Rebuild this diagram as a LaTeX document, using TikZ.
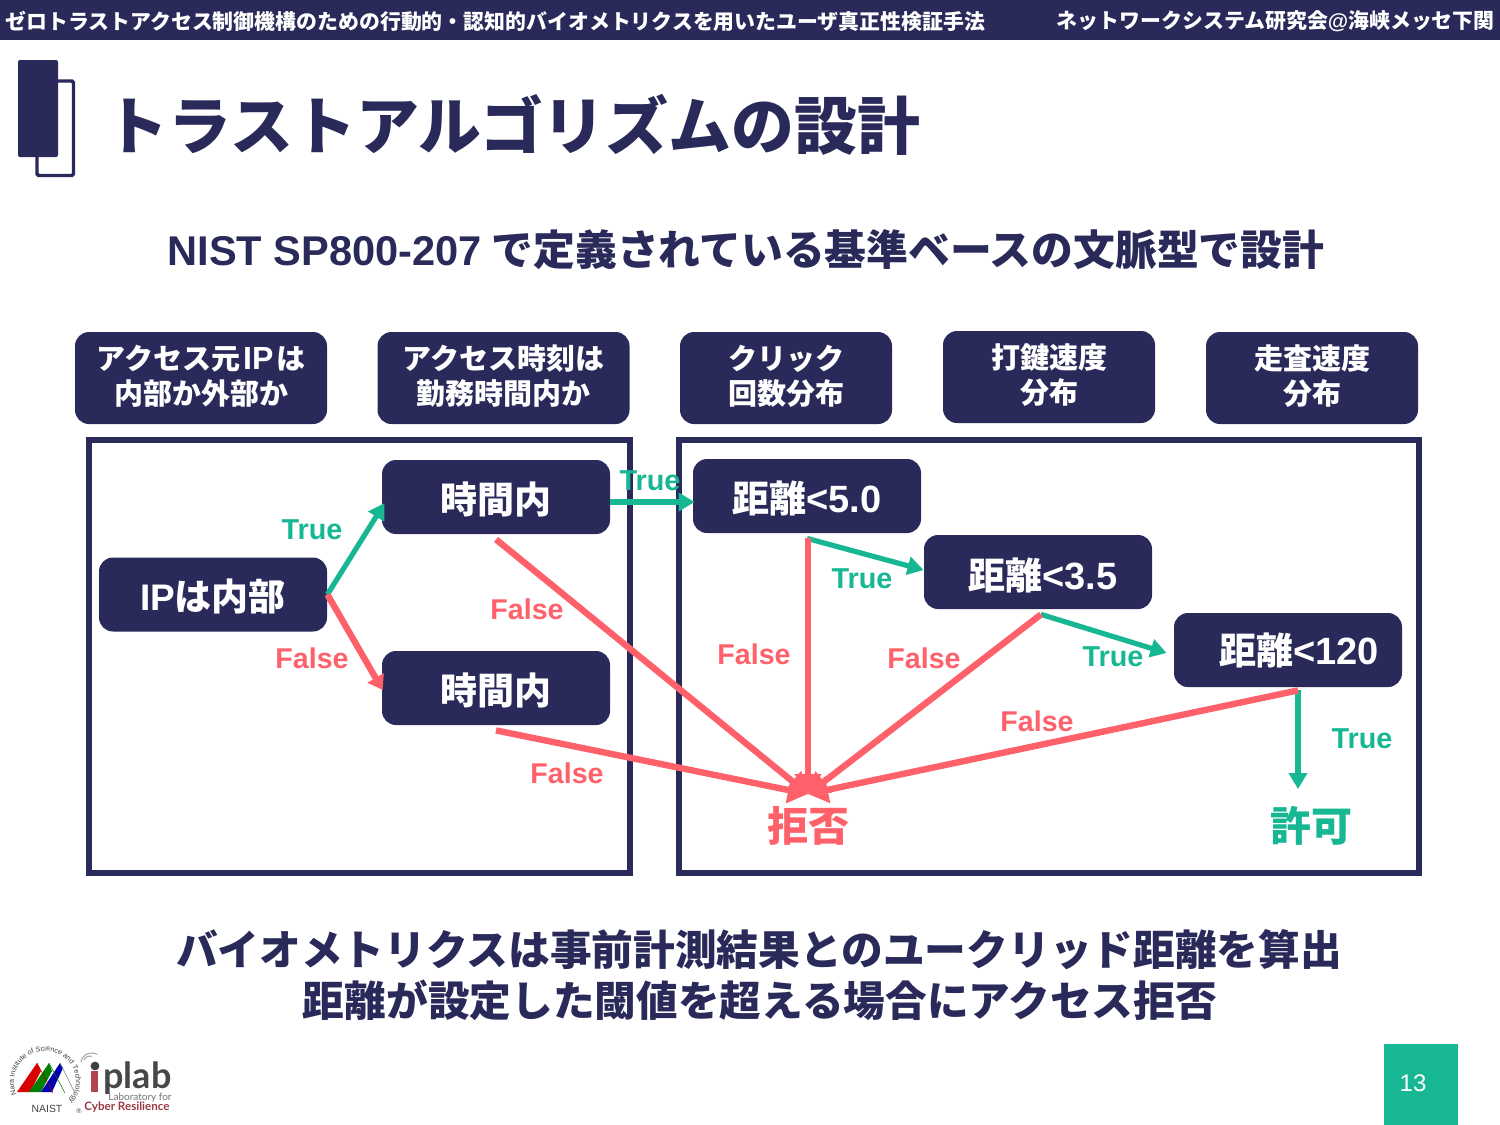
\documentclass[tikz,border=0pt]{standalone}
\usepackage{fontspec}
\setmainfont{Noto Sans CJK JP}
\newfontfamily\lat{Liberation Sans}
\newfontfamily\logofont{Lato}
\usetikzlibrary{arrows.meta,decorations.text}
\definecolor{navy}{HTML}{2A2A5A}
\definecolor{grn}{HTML}{17B794}
\definecolor{rd}{HTML}{FF616B}
\newcommand{\fs}[1]{\fontsize{#1}{#1}\selectfont}
\newcommand{\critup}{\rule[-3pt]{0pt}{3pt}}
\tikzset{
 txt/.style={inner sep=0pt,font=\bfseries},
 hd/.style={txt,text=white,font=\bfseries\fs{10.45}},
 crit/.style={draw=none,fill=navy,rounded corners=7pt,text=white,inner sep=0pt,align=center,
   font=\bfseries\fontsize{14.5}{17.5}\selectfont},
 dec/.style={fill=navy,rounded corners=7pt,text=white,inner sep=0pt,minimum width=114pt,minimum height=37pt,
   text height=18.5pt,text depth=2.2pt,font=\bfseries\fs{18.5}},
 frame/.style={draw=navy,line width=2.7pt,inner sep=0pt},
 gl/.style={txt,text=grn,font=\bfseries\lat\fs{14.4}},
 rl/.style={txt,text=rd,font=\bfseries\lat\fs{14.3}},
 garr/.style={draw=grn,line width=2.6pt,-{Triangle[length=8pt,width=9pt]}},
 rarr/.style={draw=rd,line width=3.2pt,-{Triangle[length=10pt,width=13pt]}},
 rsmall/.style={draw=rd,line width=3.2pt,-{Triangle[length=7pt,width=9pt]}},
}
\begin{document}
\begin{tikzpicture}[x=0.5pt,y=-0.5pt]
\useasboundingbox (0,0) rectangle (1500,1125);
\fill[navy] (0,0) rectangle (1500,40);
\node[hd,anchor=west] (hl) at (5,21) {ゼロトラストアクセス制御機構のための行動的・認知的バイオメトリクスを用いたユーザ真正性検証手法};
\node[hd,anchor=east] (hr) at (1495,21) {ネットワークシステム研究会{\lat @}海峡メッセ下関};
% title icon
\draw[navy,line width=1.7pt,rounded corners=0.8pt] (37,81) rectangle (73.5,175.5);
\fill[navy,rounded corners=1pt] (18,60) rectangle (58,157);
\node[txt,text=navy,font=\bfseries\fs{31.45}] (title) at (513,125) {トラストアルゴリズムの設計};
\node[txt,text=navy,font=\bfseries\fs{20.9}] (sub) at (746,250) {{\lat\fs{20.8}NIST SP800-207} で定義されている基準ベースの文脈型で設計};
% criteria
\node[crit,minimum width=126pt,minimum height=46pt] (c1) at (201,378) {アクセス元{\lat\fs{16}\hspace{1.5pt}IP\hspace{1.5pt}}は\\内部か外部か\critup};
\node[crit,minimum width=126pt,minimum height=46pt] (c2) at (503.5,378) {アクセス時刻は\\勤務時間内か\critup};
\node[crit,minimum width=106pt,minimum height=46pt] (c3) at (786,378) {クリック\\回数分布\critup};
\node[crit,minimum width=106pt,minimum height=46pt] (c4) at (1049,377) {打鍵速度\\分布\critup};
\node[crit,minimum width=106pt,minimum height=46pt] (c5) at (1312,378) {走査速度\\分布\critup};
% frames
\draw[frame] (89,440) rectangle (630,873);
\draw[frame] (679,440) rectangle (1419,873);
% decisions
\node[dec] (ip) at (213,594.5) {{\lat IP}は内部};
\node[dec] (t1) at (496,497) {時間内};
\node[dec] (t2) at (496,688) {時間内};
\node[dec] (d1) at (807,496) {距離{\lat\fs{19}<5.0}};
\node[dec,text height=20pt] (d2) at (1038,572) {\hspace*{5pt}距離{\lat\fs{19}<3.5}};
\node[dec,text height=16.6pt] (d3) at (1288,650) {\hspace*{11pt}距離{\lat\fs{19}<120}};
\node[txt,text=rd,font=\bfseries\fs{20.5}] (deny) at (808,826) {拒否};
\node[txt,text=grn,font=\bfseries\fs{20.5}] (allow) at (1311,826) {許可};
\coordinate (rej) at (808,794);
\coordinate (alw) at (1298,789);
% green
\draw[garr] (ip.east) -- ([xshift=1.5pt,yshift=-3pt]t1.west);
\draw[garr] ([yshift=-2.5pt]t1.east) -- ([xshift=1pt,yshift=-3pt]d1.west);
\draw[garr] ([yshift=-2.5pt]d1.south) -- ([yshift=1pt]d2.west);
\draw[garr] ([xshift=1.5pt,yshift=-2.5pt]d2.south) -- ([xshift=-3.5pt,yshift=-1.5pt]d3.west);
\draw[garr] ([xshift=5pt,yshift=-1.5pt]d3.south) -- (alw);
% red
\draw[rsmall] (ip.east) -- ([xshift=.5pt,yshift=-1pt]t2.west);
\draw[rarr] ([yshift=-2.5pt]t1.south) -- (rej);
\draw[rarr] ([yshift=-2.5pt]t2.south) -- (rej);
\draw[rarr] ([xshift=.5pt,yshift=-2.5pt]d1.south) -- (rej);
\draw[rarr] ([xshift=1.5pt,yshift=-2.5pt]d2.south) -- (rej);
\draw[rarr] ([xshift=5pt,yshift=-1.5pt]d3.south) -- (rej);
% labels
\node[gl] (l1) at (312,530) {True};
\node[rl] (l2) at (312,658) {False};
\node[gl] (l3) at (650,481) {True};
\node[rl] (l4) at (527,609) {False};
\node[rl] (l5) at (567,773) {False};
\node[gl] (l6) at (862,579) {True};
\node[rl] (l7) at (754,654) {False};
\node[rl] (l8) at (924,658) {False};
\node[gl] (l9) at (1113,657) {True};
\node[rl] (l10) at (1037,721) {False};
\node[gl] (l11) at (1362,739) {True};
% bottom text
\node[txt,text=navy,font=\bfseries\fs{20.85}] (b1) at (759,950) {バイオメトリクスは事前計測結果とのユークリッド距離を算出};
\node[txt,text=navy,font=\bfseries\fs{20.85}] (b2) at (760,1000) {距離が設定した閾値を超える場合にアクセス拒否};
% page number
\fill[grn] (1384,1044) rectangle (1458,1125);
\node[inner sep=0pt,text=white,font=\lat\fs{12}] (pg) at (1413,1083) {13};
% logo
\fill[red!85!black] (17,1092) -- (37,1063) -- (41,1071) -- (30,1092) -- cycle;
\fill[green!50!black] (29,1092) -- (49,1063) -- (52,1071) -- (41,1092) -- cycle;
\fill[blue!70!black] (41,1092) -- (60,1063) -- (63,1068) -- (52,1092) -- cycle;
\draw[red!70!black,line width=.25pt] (37,1063) -- (53,1093);
\draw[green!45!black,line width=.25pt] (49,1063) -- (65,1093);
\draw[gray,line width=.25pt] (60,1063) -- (75,1093);
\path[decorate,decoration={text along path,text align=center,
  text={|\lat\fs{3.6}\color{black!75}|Nara Institute of Science and Technology}}]
  (45,1082) ++(215:15.5pt) arc[start angle=215,end angle=-50,radius=15.5pt];
\node[inner sep=0pt,text=black!75,font=\lat\fs{5.2}] (naist) at (47,1109) {NAIST};
\node[inner sep=0pt,text=black!70,font=\lat\fs{3.5}] (reg) at (79,1111) {®};
\draw[gray!70,line width=.5pt] (84,1060) arc[start angle=160,end angle=70,radius=3pt];
\draw[gray!70,line width=.5pt] (81,1062) arc[start angle=170,end angle=60,radius=5.5pt];
\node[inner sep=0pt,anchor=west,text=black!72,font=\logofont\bfseries\fs{18}] (pl) at (103,1078) {plab};
\fill[rd!70!black] (91,1071) rectangle (98,1092);
\fill[black!75] (95,1066) circle (2.2pt);
\node[inner sep=0pt,text=black!55,font=\logofont\fs{5}] (lf) at (140,1098) {Laboratory for};
\node[inner sep=0pt,text=rd!60!black,font=\logofont\bfseries\fs{5.8}] (cr) at (127,1107.5) {Cyber Resilience};
\end{tikzpicture}
\end{document}
